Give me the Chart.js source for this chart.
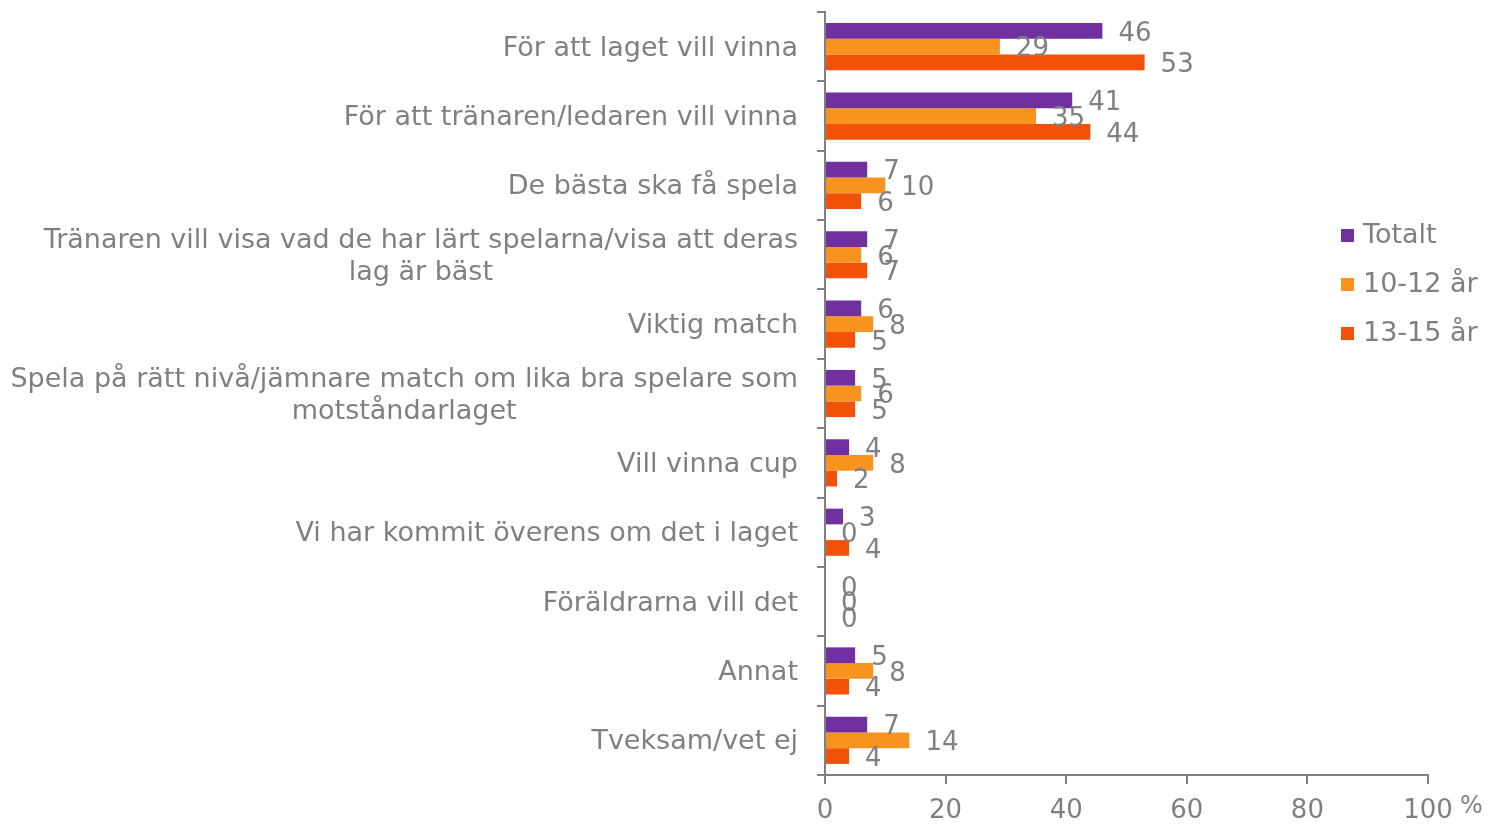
<!DOCTYPE html>
<html>
<head>
<meta charset="utf-8">
<script src="https://cdn.jsdelivr.net/npm/chart.js@4/dist/chart.umd.min.js"></script>
<style>
  html, body { margin: 0; padding: 0; background: #fff; }
  #wrap { width: 1489px; height: 824px; }
</style>
</head>
<body>
<div id="wrap"><canvas id="chart" width="1489" height="824"></canvas></div>
<script>
const categories = [
    'För att laget vill vinna',
    'För att tränaren/ledaren vill vinna',
    'De bästa ska få spela',
    ['Tränaren vill visa vad de har lärt spelarna/visa att deras', 'lag är bäst'],
    'Viktig match',
    ['Spela på rätt nivå/jämnare match om lika bra spelare som', 'motståndarlaget'],
    'Vill vinna cup',
    'Vi har kommit överens om det i laget',
    'Föräldrarna vill det',
    'Annat',
    'Tveksam/vet ej'
];
const seriesNames = ['Totalt', '10-12 år', '13-15 år'];
const totalt = [46, 41, 7, 7, 6, 5, 4, 3, 0, 5, 7];
const age10to12 = [29, 35, 10, 6, 8, 6, 8, 0, 0, 8, 14];
const age13to15 = [53, 44, 6, 7, 5, 5, 2, 4, 0, 4, 4];
const xTicks = [0, 20, 40, 60, 80, 100];

const COLORS = ['#7030A0', '#F7931E', '#F0520A'];
const GREY = '#808080';
const FONT = "'DejaVu Sans', Verdana, sans-serif";
const LABEL_SIZE = 27;
const NUM_SIZE = 26;

// category labels: multi-line ones are centred as a block, block right-aligned to the axis
const categoryLabels = {
    id: 'categoryLabels',
    afterDraw(chart) {
        const ctx = chart.ctx;
        const y = chart.scales.y;
        const right = chart.chartArea.left - 27;
        const lineH = 32;
        ctx.save();
        ctx.font = LABEL_SIZE + 'px ' + FONT;
        ctx.fillStyle = GREY;
        ctx.textBaseline = 'middle';
        ctx.textAlign = 'center';
        categories.forEach((lab, i) => {
            const lines = Array.isArray(lab) ? lab : [lab];
            const cy = y.getPixelForValue(i) + 2;
            const maxW = Math.max(...lines.map(l => ctx.measureText(l).width));
            const cx = right - maxW / 2;
            lines.forEach((l, k) => {
                const ly = cy + (k - (lines.length - 1) / 2) * lineH;
                ctx.fillText(l, cx, ly);
            });
        });
        ctx.restore();
    }
};

// value labels just past the end of each bar
const valueLabels = {
    id: 'valueLabels',
    afterDatasetsDraw(chart) {
        const ctx = chart.ctx;
        ctx.save();
        ctx.font = NUM_SIZE + 'px ' + FONT;
        ctx.fillStyle = GREY;
        ctx.textAlign = 'left';
        ctx.textBaseline = 'middle';
        chart.data.datasets.forEach((ds, di) => {
            chart.getDatasetMeta(di).data.forEach((bar, i) => {
                ctx.fillText(String(ds.data[i]), bar.x + 16, bar.y + 3);
            });
        });
        ctx.restore();
    }
};

// legend sits inside the plot, right side; plus the % unit after the last tick
const sideLegend = {
    id: 'sideLegend',
    afterDraw(chart) {
        const ctx = chart.ctx;
        ctx.save();
        ctx.font = LABEL_SIZE + 'px ' + FONT;
        ctx.textBaseline = 'middle';
        ctx.textAlign = 'left';
        chart.data.datasets.forEach((ds, i) => {
            const cy = 235 + i * 49;
            ctx.fillStyle = ds.backgroundColor;
            ctx.fillRect(1341, cy - 6, 13, 13);
            ctx.fillStyle = GREY;
            ctx.fillText(ds.label, 1363, cy + 1);
        });
        const x = chart.scales.x;
        ctx.font = '24px ' + FONT;
        ctx.fillText('%', x.right + 32, 807);
        ctx.restore();
    }
};

new Chart(document.querySelector('#chart'), {
    type: 'bar',
    data: {
        labels: categories,
        datasets: [
            { label: seriesNames[0], data: totalt, backgroundColor: COLORS[0] },
            { label: seriesNames[1], data: age10to12, backgroundColor: COLORS[1] },
            { label: seriesNames[2], data: age13to15, backgroundColor: COLORS[2] }
        ]
    },
    options: {
        indexAxis: 'y',
        responsive: false,
        animation: false,
        devicePixelRatio: 1,
        layout: { padding: { top: 12, right: 61, left: 0, bottom: 0 } },
        datasets: {
            bar: { categoryPercentage: 0.68, barPercentage: 1.0, borderWidth: 0 }
        },
        plugins: {
            legend: { display: false },
            tooltip: { enabled: false }
        },
        scales: {
            x: {
                min: 0,
                max: 100,
                afterBuildTicks: (s) => { s.ticks = xTicks.map(v => ({ value: v })); },
                afterFit: (s) => { s.height = 49; },
                border: { color: GREY, width: 2 },
                grid: { drawOnChartArea: false, color: GREY, tickLength: 9, lineWidth: 2 },
                ticks: {
                    color: GREY,
                    font: { family: FONT, size: NUM_SIZE },
                    padding: 12,
                    maxRotation: 0
                }
            },
            y: {
                afterFit: (s) => { s.width = 825; },
                border: { color: GREY, width: 2 },
                grid: { drawOnChartArea: false, color: GREY, tickLength: 8, lineWidth: 2, offset: true },
                ticks: { display: false }
            }
        }
    },
    plugins: [categoryLabels, valueLabels, sideLegend]
});
</script>
</body>
</html>
